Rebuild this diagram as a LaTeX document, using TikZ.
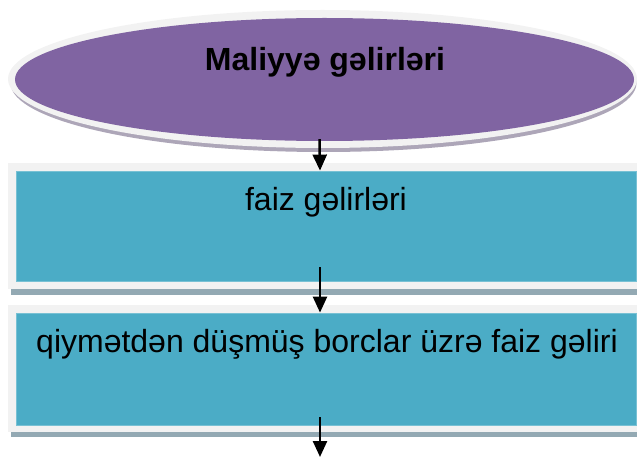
\documentclass[tikz,border=0pt]{standalone}
\usepackage{fontspec}
\setmainfont{Liberation Sans}
\usetikzlibrary{shapes.geometric,arrows.meta,positioning}

\definecolor{headpurple}{HTML}{8064A2}
\definecolor{boxblue}{HTML}{4BACC6}
\definecolor{rimgray}{HTML}{F2F2F2}
\definecolor{boxshade}{HTML}{93A9B3}
\definecolor{headshade}{HTML}{ADA6B8}

\begin{document}
\begin{tikzpicture}[x=1pt,y=-1pt,
    rim/.style={rectangle, fill=rimgray, draw=none, inner sep=0pt, minimum width=632pt},
    panel/.style={rectangle, fill=boxblue, draw=boxblue!75!white, line width=0.8pt, inner sep=0pt, minimum width=620pt},
    boxtext/.style={font=\fontsize{32}{38}\selectfont, anchor=base},
    flow/.style={line width=2.5pt, -{Triangle[length=16pt,width=14pt]}}]
    \useasboundingbox (0,0) rectangle (637,457);

    % top ellipse
    \fill[headshade] (323.5,83) ellipse [x radius=313, y radius=69];
    \node[ellipse, fill=rimgray, inner sep=0pt, minimum width=629pt, minimum height=138pt] (headrim) at (322.5,79) {};
    \node[ellipse, fill=headpurple, inner sep=0pt, minimum width=619pt, minimum height=123pt] (head) at (324.5,79.5) {};
    \node[boxtext, font=\fontsize{32}{38}\selectfont\bfseries] (title) at (325,71) {Maliyyə gəlirləri};

    % first box
    \fill[boxshade] (11,175) rectangle (640,295);
    \node[rim, minimum height=126pt] (rim1) at (324,226) {};
    \node[panel, minimum height=110pt] (panel1) at (326,226) {};
    \node[boxtext] (text1) at (326,211) {faiz gəlirləri};

    % second box
    \fill[boxshade] (11,315) rectangle (640,437);
    \node[rim, minimum height=127pt] (rim2) at (324,368.5) {};
    \node[panel, minimum height=112pt] (panel2) at (326,369) {};
    \node[boxtext] (text2) at (327,352) {qiymətdən düşmüş borclar üzrə faiz gəliri};

    \coordinate (tail) at (320,457);
    \draw[flow] ([xshift=-5pt,yshift=2pt]head.south) -- ([xshift=-6pt]panel1.north);
    \draw[flow] ([xshift=-6pt,yshift=14pt]panel1.south) -- ([xshift=-6pt]panel2.north);
    \draw[flow] ([xshift=-6pt,yshift=8pt]panel2.south) -- (tail);
\end{tikzpicture}
\end{document}
